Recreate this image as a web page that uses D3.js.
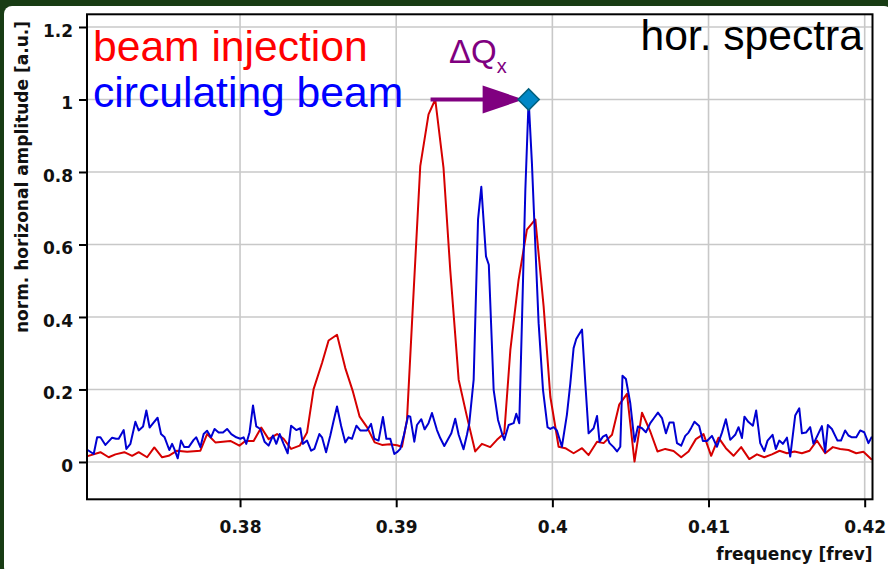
<!DOCTYPE html>
<html>
<head>
<meta charset="utf-8">
<script src="https://cdn.jsdelivr.net/npm/d3@7/dist/d3.min.js"></script>
<style>
	body { margin: 0; background: #173a14; }
	svg { display: block; }
	.tick text { font-family: 'DejaVu Sans', sans-serif; font-weight: bold; font-size: 17px; fill: #111; }
	.tick line { stroke: #000; stroke-width: 2; }
	.axis-title { font-family: 'DejaVu Sans', sans-serif; font-weight: bold; font-size: 17px; fill: #111; }
	.big { font-family: 'Liberation Sans', Arial, sans-serif; font-size: 42.6px; }
</style>
</head>
<body>
<svg id="chart" width="888" height="569"></svg>
<script>
// beam injection spectrum (red)
const injFreq = [
	0.37024, 0.37106, 0.37159, 0.37202, 0.37259, 0.37309, 0.37351, 0.37405, 0.37451, 0.37501,
	0.37543, 0.37597, 0.37661, 0.37746, 0.37789, 0.37842, 0.37938, 0.37996, 0.38034, 0.38087,
	0.38136, 0.38183, 0.38237, 0.38279, 0.38327, 0.38382, 0.38429, 0.38471, 0.38525, 0.38567,
	0.38621, 0.38674, 0.38723, 0.38766, 0.38813, 0.38862, 0.38909, 0.38958, 0.39005, 0.39037,
	0.39069, 0.39101, 0.39154, 0.39207, 0.39250, 0.39303, 0.39346, 0.39400, 0.39453, 0.39506,
	0.39549, 0.39602, 0.39645, 0.39692, 0.39731, 0.39784, 0.39837, 0.39891, 0.39944, 0.39987,
	0.40040, 0.40083, 0.40136, 0.40190, 0.40232, 0.40286, 0.40328, 0.40382, 0.40428, 0.40478,
	0.40526, 0.40574, 0.40627, 0.40673, 0.40723, 0.40776, 0.40825, 0.40872, 0.40919, 0.40968,
	0.41017, 0.41064, 0.41111, 0.41160, 0.41209, 0.41261, 0.41310, 0.41357, 0.41406, 0.41455,
	0.41502, 0.41551, 0.41598, 0.41647, 0.41694, 0.41747, 0.41796, 0.41843, 0.41896, 0.41946,
	0.41992, 0.42046,
]
const injAmp = [
	0.016, 0.027, 0.013, 0.021, 0.027, 0.017, 0.027, 0.013, 0.040, 0.013,
	0.017, 0.031, 0.028, 0.031, 0.077, 0.054, 0.058, 0.045, 0.058, 0.058,
	0.095, 0.063, 0.077, 0.064, 0.036, 0.045, 0.081, 0.201, 0.273, 0.335,
	0.351, 0.259, 0.194, 0.125, 0.096, 0.054, 0.047, 0.049, 0.046, 0.042,
	0.116, 0.383, 0.816, 0.959, 1.000, 0.811, 0.530, 0.227, 0.125, 0.029,
	0.050, 0.041, 0.061, 0.079, 0.309, 0.503, 0.641, 0.669, 0.429, 0.180,
	0.042, 0.038, 0.024, 0.038, 0.019, 0.056, 0.052, 0.075, 0.158, 0.188,
	0.001, 0.136, 0.084, 0.029, 0.036, 0.030, 0.013, 0.029, 0.063, 0.077,
	0.017, 0.067, 0.038, 0.017, 0.041, 0.008, 0.021, 0.013, 0.021, 0.031,
	0.024, 0.029, 0.024, 0.031, 0.059, 0.024, 0.041, 0.036, 0.033, 0.024,
	0.028, 0.006,
]

// circulating beam spectrum (blue)
const circFreq = [
	0.37024, 0.37063, 0.37085, 0.37106, 0.37138, 0.37181, 0.37206, 0.37223, 0.37255, 0.37272,
	0.37298, 0.37330, 0.37351, 0.37379, 0.37400, 0.37421, 0.37445, 0.37472, 0.37494, 0.37517,
	0.37547, 0.37565, 0.37579, 0.37601, 0.37622, 0.37643, 0.37671, 0.37703, 0.37720, 0.37746,
	0.37767, 0.37789, 0.37814, 0.37837, 0.37863, 0.37891, 0.37917, 0.37944, 0.37976, 0.38002,
	0.38023, 0.38040, 0.38061, 0.38083, 0.38104, 0.38130, 0.38157, 0.38183, 0.38211, 0.38232,
	0.38254, 0.38279, 0.38305, 0.38327, 0.38360, 0.38386, 0.38402, 0.38429, 0.38455, 0.38476,
	0.38508, 0.38525, 0.38551, 0.38578, 0.38599, 0.38621, 0.38647, 0.38674, 0.38695, 0.38717,
	0.38745, 0.38770, 0.38791, 0.38813, 0.38839, 0.38860, 0.38887, 0.38915, 0.38937, 0.38962,
	0.38988, 0.39005, 0.39026, 0.39047, 0.39076, 0.39090, 0.39116, 0.39133, 0.39161, 0.39182,
	0.39207, 0.39229, 0.39261, 0.39282, 0.39308, 0.39330, 0.39353, 0.39378, 0.39400, 0.39431,
	0.39453, 0.39468, 0.39496, 0.39524, 0.39545, 0.39575, 0.39593, 0.39624, 0.39652, 0.39677,
	0.39692, 0.39720, 0.39752, 0.39769, 0.39788, 0.39805, 0.39827, 0.39848, 0.39869, 0.39891,
	0.39912, 0.39940, 0.39969, 0.39987, 0.40008, 0.40029, 0.40061, 0.40093, 0.40115, 0.40136,
	0.40153, 0.40169, 0.40190, 0.40211, 0.40232, 0.40264, 0.40286, 0.40302, 0.40324, 0.40345,
	0.40366, 0.40392, 0.40414, 0.40435, 0.40449, 0.40471, 0.40499, 0.40526, 0.40548, 0.40574,
	0.40599, 0.40627, 0.40652, 0.40676, 0.40702, 0.40727, 0.40750, 0.40776, 0.40798, 0.40825,
	0.40851, 0.40872, 0.40889, 0.40910, 0.40940, 0.40964, 0.40990, 0.41022, 0.41054, 0.41086,
	0.41111, 0.41139, 0.41171, 0.41192, 0.41214, 0.41230, 0.41256, 0.41284, 0.41305, 0.41331,
	0.41357, 0.41378, 0.41410, 0.41431, 0.41453, 0.41476, 0.41502, 0.41523, 0.41555, 0.41581,
	0.41598, 0.41624, 0.41651, 0.41672, 0.41704, 0.41726, 0.41747, 0.41764, 0.41790, 0.41826,
	0.41848, 0.41875, 0.41896, 0.41918, 0.41946, 0.41971, 0.41997, 0.42024, 0.42046,
]
const circAmp = [
	0.033, 0.022, 0.068, 0.068, 0.047, 0.067, 0.064, 0.064, 0.088, 0.036,
	0.050, 0.111, 0.087, 0.098, 0.142, 0.095, 0.108, 0.122, 0.077, 0.068,
	0.033, 0.050, 0.036, 0.010, 0.059, 0.041, 0.041, 0.061, 0.068, 0.041,
	0.077, 0.086, 0.068, 0.091, 0.081, 0.081, 0.091, 0.077, 0.068, 0.064,
	0.068, 0.050, 0.082, 0.156, 0.098, 0.091, 0.056, 0.045, 0.073, 0.050,
	0.077, 0.050, 0.024, 0.100, 0.088, 0.093, 0.050, 0.059, 0.031, 0.036,
	0.077, 0.068, 0.027, 0.073, 0.113, 0.153, 0.100, 0.054, 0.068, 0.064,
	0.100, 0.087, 0.087, 0.087, 0.105, 0.064, 0.059, 0.124, 0.064, 0.064,
	0.022, 0.027, 0.036, 0.070, 0.127, 0.125, 0.056, 0.102, 0.118, 0.090,
	0.107, 0.135, 0.088, 0.066, 0.044, 0.061, 0.079, 0.119, 0.075, 0.035,
	0.075, 0.107, 0.227, 0.669, 0.759, 0.567, 0.544, 0.199, 0.116, 0.079,
	0.061, 0.102, 0.107, 0.133, 0.107, 0.383, 0.751, 1.000, 0.825, 0.595,
	0.383, 0.199, 0.096, 0.091, 0.096, 0.087, 0.042, 0.130, 0.217, 0.314,
	0.339, 0.351, 0.365, 0.217, 0.079, 0.093, 0.127, 0.056, 0.070, 0.075,
	0.052, 0.041, 0.029, 0.042, 0.238, 0.229, 0.162, 0.056, 0.098, 0.093,
	0.082, 0.107, 0.122, 0.136, 0.121, 0.079, 0.109, 0.109, 0.052, 0.045,
	0.072, 0.081, 0.094, 0.111, 0.099, 0.058, 0.058, 0.072, 0.042, 0.081,
	0.118, 0.061, 0.075, 0.096, 0.066, 0.125, 0.110, 0.100, 0.142, 0.052,
	0.030, 0.059, 0.075, 0.036, 0.059, 0.050, 0.067, 0.015, 0.128, 0.148,
	0.079, 0.081, 0.096, 0.050, 0.079, 0.099, 0.027, 0.102, 0.091, 0.059,
	0.059, 0.087, 0.073, 0.068, 0.068, 0.087, 0.082, 0.052, 0.070,
]

const freqTicks = [0.38, 0.39, 0.40, 0.41, 0.42]
const freqTickLabels = ['0.38', '0.39', '0.4', '0.41', '0.42']
const ampTicks = [0, 0.2, 0.4, 0.6, 0.8, 1, 1.2]
const ampTickLabels = ['0', '0.2', '0.4', '0.6', '0.8', '1', '1.2']
const freqDomain = [0.3702, 0.4205]
const ampDomain = [-0.103, 1.235]

// tune shift annotation: red peak -> blue peak
const shiftFrom = [0.3922, 1.0]
const shiftTo = [0.39848, 1.0]

const W = 888, H = 569
const plot = { left: 87, right: 872.5, top: 14.3, bottom: 499.3 }

const svg = d3.select('#chart')

svg.append('rect').attr('width', W).attr('height', H).attr('fill', '#183c14')
svg.append('rect').attr('x', 4).attr('y', 6).attr('width', W).attr('height', H)
	.attr('rx', 8).attr('fill', '#fff')

const x = d3.scaleLinear().domain(freqDomain).range([plot.left, plot.right])
const y = d3.scaleLinear().domain(ampDomain).range([plot.bottom, plot.top])

svg.append('defs').append('clipPath').attr('id', 'clip')
	.append('rect')
	.attr('x', plot.left).attr('y', plot.top)
	.attr('width', plot.right - plot.left).attr('height', plot.bottom - plot.top)

// grid
const gGrid = svg.append('g').attr('stroke', '#c8c8c8').attr('stroke-width', 1.6)
gGrid.selectAll('line.gx').data(freqTicks).enter().append('line')
	.attr('class', 'gx')
	.attr('x1', x).attr('x2', x)
	.attr('y1', plot.top).attr('y2', plot.bottom)
gGrid.selectAll('line.gy').data(ampTicks).enter().append('line')
	.attr('class', 'gy')
	.attr('y1', y).attr('y2', y)
	.attr('x1', plot.left).attr('x2', plot.right)

// spectra
const line = d3.line().x(d => x(d[0])).y(d => y(d[1]))
const gLines = svg.append('g').attr('clip-path', 'url(#clip)')

gLines.append('path')
	.datum(d3.zip(injFreq, injAmp))
	.attr('d', line)
	.attr('fill', 'none').attr('stroke', '#d60000').attr('stroke-width', 2)
	.attr('stroke-linejoin', 'round')

gLines.append('path')
	.datum(d3.zip(circFreq, circAmp))
	.attr('d', line)
	.attr('fill', 'none').attr('stroke', '#0000d2').attr('stroke-width', 2)
	.attr('stroke-linejoin', 'round')

// axes
const xAxis = d3.axisBottom(x)
	.tickValues(freqTicks)
	.tickFormat((d, i) => freqTickLabels[i])
	.tickSize(8).tickPadding(14)
const yAxis = d3.axisLeft(y)
	.tickValues(ampTicks)
	.tickFormat((d, i) => ampTickLabels[i])
	.tickSize(8).tickPadding(6)

const gx = svg.append('g').attr('transform', `translate(0,${plot.bottom})`).call(xAxis)
const gy = svg.append('g').attr('transform', `translate(${plot.left},0)`).call(yAxis)
gx.select('.domain').remove()
gy.select('.domain').remove()
gy.selectAll('.tick text').attr('dy', '0.55em')

svg.append('rect')
	.attr('x', plot.left).attr('y', plot.top)
	.attr('width', plot.right - plot.left).attr('height', plot.bottom - plot.top)
	.attr('fill', 'none').attr('stroke', '#000').attr('stroke-width', 2)

// axis titles
svg.append('text').attr('class', 'axis-title')
	.attr('text-anchor', 'end')
	.attr('x', plot.right).attr('y', 560)
	.text('frequency [frev]')

svg.append('text').attr('class', 'axis-title')
	.attr('text-anchor', 'middle')
	.attr('transform', 'translate(28,177) rotate(-90)')
	.text('norm. horizonal amplitude [a.u.]')

// legend + title
svg.append('text').attr('class', 'big').attr('fill', '#ff0000')
	.attr('x', 93).attr('y', 61).text('beam injection')
svg.append('text').attr('class', 'big').attr('fill', '#0000ff')
	.attr('x', 93).attr('y', 107).text('circulating beam')
svg.append('text').attr('class', 'big').attr('fill', '#000')
	.attr('text-anchor', 'end')
	.attr('x', 863).attr('y', 50).text('hor. spectra')

// delta Q arrow
const purple = '#800080'
const ax0 = x(shiftFrom[0]), ax1 = x(shiftTo[0]), ay = y(shiftTo[1])
const tip = ax1 - 5
svg.append('line')
	.attr('x1', ax0).attr('x2', tip - 30)
	.attr('y1', ay).attr('y2', ay)
	.attr('stroke', purple).attr('stroke-width', 4)
svg.append('path')
	.attr('d', `M${tip - 41},${ay - 14}L${tip},${ay}L${tip - 41},${ay + 14}Z`)
	.attr('fill', purple)

svg.append('path')
	.attr('d', d3.symbol(d3.symbolSquare, 225))
	.attr('transform', `translate(${ax1},${ay}) rotate(45)`)
	.attr('fill', '#0087c6').attr('stroke', '#00607f').attr('stroke-width', 1.5)

const dq = svg.append('text').attr('fill', purple)
	.attr('font-family', "'Liberation Sans', Arial, sans-serif")
	.attr('x', 449).attr('y', 63)
dq.append('tspan').attr('font-size', '33px').text('ΔQ')
dq.append('tspan').attr('font-size', '20px').attr('dy', 10).text('x')
</script>
</body>
</html>
